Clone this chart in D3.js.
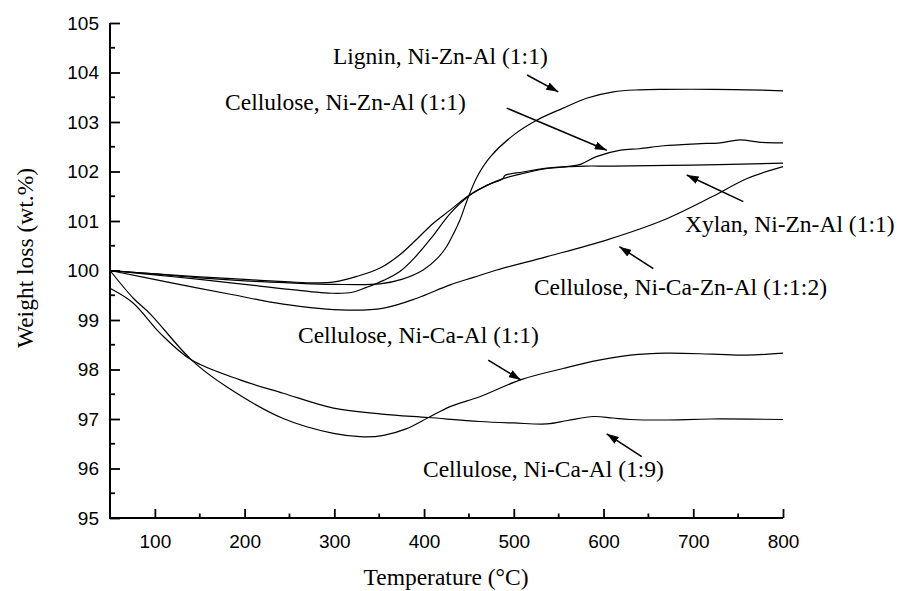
<!DOCTYPE html>
<html><head><meta charset="utf-8">
<script src="https://cdn.jsdelivr.net/npm/d3@7"></script>
<style>body{margin:0;background:#fff}</style>
</head><body><svg id="c" width="900" height="591"></svg>
<script>
// Temperature (°C) / weight (wt.%) pairs for each curve
const ligninT = [50,100,150,200,250,300,351,375,399,415,425,433,440,448,459,474,500,526,555,581,611,640,667,722,760,800];
const ligninV = [100,99.93,99.85,99.79,99.75,99.72,99.73,99.82,100.01,100.25,100.48,100.75,101.02,101.42,101.89,102.30,102.74,103.04,103.28,103.48,103.61,103.65,103.66,103.66,103.65,103.63];
const xylanT = [50,100,150,200,250,277,300,325,351,373,390,410,429,451,470,489,510,537,563,580,611,700,800];
const xylanV = [100,99.93,99.87,99.82,99.77,99.75,99.77,99.88,100.05,100.32,100.6,100.95,101.22,101.53,101.72,101.86,101.96,102.06,102.10,102.11,102.11,102.13,102.17];
const celZnT = [50,100,150,200,250,299,320,336,355,373,390,410,429,451,470,488,490,510,537,563,575,592,619,640,667,704,730,752,775,800];
const celZnV = [100,99.91,99.82,99.72,99.62,99.54,99.56,99.66,99.80,99.98,100.27,100.70,101.15,101.52,101.72,101.86,101.92,101.99,102.07,102.11,102.15,102.30,102.43,102.46,102.52,102.56,102.58,102.64,102.59,102.58];
const celCaZnT = [50,113,187,243,314,355,392,429,455,481,537,604,667,722,760,800];
const celCaZnV = [100,99.77,99.51,99.32,99.20,99.24,99.44,99.71,99.86,100.01,100.28,100.62,101.02,101.50,101.86,102.10];
const celCa11T = [50,76,95,141,180,243,299,332,355,380,405,429,462,509,555,592,630,670,722,760,800];
const celCa11V = [100,99.44,99.12,98.19,97.65,97.01,96.71,96.64,96.67,96.80,97.03,97.25,97.45,97.80,98.02,98.18,98.29,98.33,98.31,98.29,98.33];
const celCa19T = [50,76,106,141,195,243,299,353,405,462,500,537,560,589,610,630,667,720,800];
const celCa19V = [99.64,99.34,98.73,98.19,97.79,97.52,97.22,97.1,97.03,96.95,96.92,96.90,96.97,97.05,97.02,96.99,96.98,97.0,96.99];

const seriesNames = ["Lignin, Ni-Zn-Al (1:1)","Cellulose, Ni-Zn-Al (1:1)","Xylan, Ni-Zn-Al (1:1)","Cellulose, Ni-Ca-Zn-Al (1:1:2)","Cellulose, Ni-Ca-Al (1:1)","Cellulose, Ni-Ca-Al (1:9)"];
// label anchor (T, wt%) and arrow tail/tip (T, wt%)
const labelT = [298.5,178.2,690.8,849,259.5,398.8];
const labelV = [104.17,103.24,100.78,99.51,98.54,95.83];
const labelAnchor = ["start","start","start","end","start","start"];
const arrowT0 = [514.7,492.1,755.8,655.5,471.5,642.6];
const arrowV0 = [103.95,103.28,101.39,100.04,98.19,96.24];
const arrowT1 = [549.6,603.6,692.7,617.6,507.7,603.5];
const arrowV1 = [103.61,102.43,101.93,100.48,97.79,96.70];

const xTicks = [100,200,300,400,500,600,700,800];
const yTicks = [95,96,97,98,99,100,101,102,103,104,105];

const svg = d3.select("#c");
const x = d3.scaleLinear().domain([50,800]).range([110,783]);
const y = d3.scaleLinear().domain([95,105]).range([518,23]);

const series = [[ligninT,ligninV],[celZnT,celZnV],[xylanT,xylanV],[celCaZnT,celCaZnV],[celCa11T,celCa11V],[celCa19T,celCa19V]];
const line = d3.line().x(d=>x(d[0])).y(d=>y(d[1])).curve(d3.curveCatmullRom.alpha(0.5));
series.forEach(([T,V])=>{
  svg.append("path").datum(T.map((t,i)=>[t,V[i]])).attr("d",line)
    .attr("fill","none").attr("stroke","#000").attr("stroke-width",1.2);
});

// axes
const minorX = d3.range(150,800,100);
const minorY = d3.range(95.5,105,1);
const gx = svg.append("g").attr("transform","translate(0,518)");
gx.call(d3.axisBottom(x).tickValues(xTicks).tickSize(-9).tickPadding(17).tickFormat(d3.format("d")));
const gy = svg.append("g").attr("transform","translate(110,0)");
gy.call(d3.axisLeft(y).tickValues(yTicks).tickSize(-10).tickPadding(11).tickFormat(d3.format("d")));
[gx,gy].forEach(g=>{
  g.attr("font-family","'Liberation Sans', Arial, sans-serif").attr("font-size",19);
  g.select(".domain").remove();
  g.selectAll(".tick line").attr("stroke-width",1.8);
  g.selectAll(".tick text").attr("font-family","'Liberation Sans', Arial, sans-serif").attr("font-size",19).attr("fill","#000");
});
svg.append("line").attr("x1",x(50)).attr("x2",x(800)).attr("y1",y(95)).attr("y2",y(95)).attr("stroke","#000").attr("stroke-width",2);
svg.append("line").attr("x1",x(50)).attr("x2",x(50)).attr("y1",y(95)+1).attr("y2",y(105)).attr("stroke","#000").attr("stroke-width",2);
svg.append("g").selectAll("line").data(minorX).join("line")
  .attr("x1",d=>x(d)).attr("x2",d=>x(d)).attr("y1",y(95)).attr("y2",y(95)-4.5).attr("stroke","#000").attr("stroke-width",1.8);
svg.append("g").selectAll("line").data(minorY).join("line")
  .attr("x1",x(50)).attr("x2",x(50)+5).attr("y1",d=>y(d)).attr("y2",d=>y(d)).attr("stroke","#000").attr("stroke-width",1.8);

// titles
const serif = "'Liberation Serif','Times New Roman',serif";
svg.append("text").attr("x",446).attr("y",585).attr("text-anchor","middle")
  .attr("font-family",serif).attr("font-size",23.5).text("Temperature (°C)");
svg.append("text").attr("transform","translate(33,258) rotate(-90)").attr("text-anchor","middle")
  .attr("font-family",serif).attr("font-size",23.5).text("Weight loss (wt.%)");

// arrows & labels
svg.append("defs").append("marker").attr("id","ah").attr("markerUnits","userSpaceOnUse")
  .attr("viewBox","0 0 12 8").attr("refX",12).attr("refY",4).attr("markerWidth",12).attr("markerHeight",8).attr("orient","auto")
  .append("path").attr("d","M0,0L12,4L0,8Z").attr("fill","#000");
seriesNames.forEach((n,i)=>{
  svg.append("text").attr("x",x(labelT[i])).attr("y",y(labelV[i])).attr("text-anchor",labelAnchor[i])
    .attr("font-family",serif).attr("font-size",23.5).text(n);
  svg.append("line").attr("x1",x(arrowT0[i])).attr("y1",y(arrowV0[i])).attr("x2",x(arrowT1[i])).attr("y2",y(arrowV1[i]))
    .attr("stroke","#000").attr("stroke-width",1.5).attr("marker-end","url(#ah)");
});
</script></body></html>
